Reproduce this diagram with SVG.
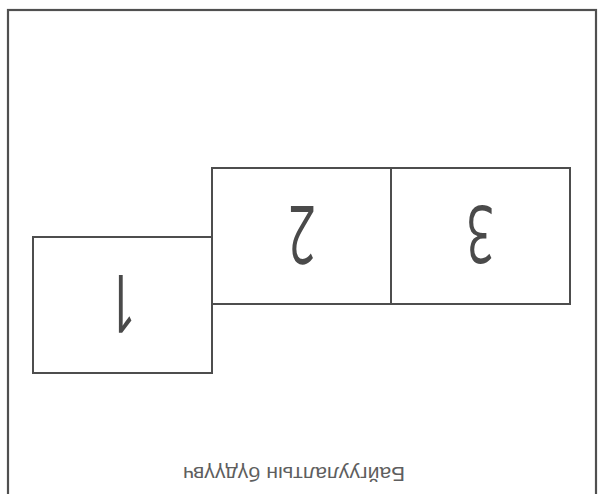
<svg xmlns="http://www.w3.org/2000/svg" width="604" height="494" viewBox="0 0 604 494">
  <style>
    .frame { fill: none; stroke: #505050; stroke-width: 2.2; }
    .box { fill: #fff; stroke: #4d4d4d; stroke-width: 2; }
    .digit { font-family: "Open Sans", "Noto Sans", "Liberation Sans", sans-serif; font-size: 80px; fill: #4a4a4a; text-anchor: middle; }
    .caption { font-family: "Liberation Sans", "DejaVu Sans", sans-serif; font-size: 20px; fill: #5e5e5e; text-anchor: middle; }
  </style>
  <rect width="604" height="494" fill="#fff"/>
  <rect id="frame" class="frame" x="8" y="10" width="588" height="500"/>
  <g id="connectors"></g>
  <g id="room1">
    <rect class="box" x="33" y="237" width="179" height="136"/>
    <text class="digit" transform="translate(122,304) rotate(180) scale(0.6,1)" x="0" y="29">1</text>
  </g>
  <g id="room2">
    <rect class="box" x="212" y="168" width="179" height="136"/>
    <text class="digit" transform="translate(302,235) rotate(180) scale(0.6,1)" x="0" y="29">2</text>
  </g>
  <g id="room3">
    <rect class="box" x="391" y="168" width="179" height="136"/>
    <text class="digit" transform="translate(480,235) rotate(180) scale(0.6,1)" x="0" y="29">3</text>
  </g>
  <g id="caption">
    <text class="caption" transform="translate(294,473) rotate(180)" x="0" y="6" textLength="222" lengthAdjust="spacingAndGlyphs">Байгуулалтын бүдүүвч</text>
  </g>
</svg>
